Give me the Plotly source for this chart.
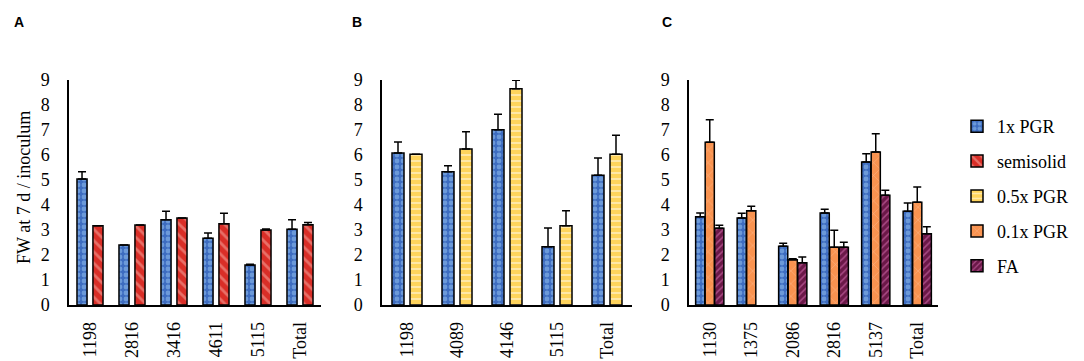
import plotly.graph_objects as go
import numpy as np

# ---------------- data ----------------
cats_a = ["1198", "2816", "3416", "4611", "5115", "Total"]
a_pgr1 = [5.04, 2.40, 3.41, 2.67, 1.60, 3.03]
a_pgr1_err = [0.29, 0.0, 0.34, 0.21, 0.03, 0.38]
a_semi = [3.17, 3.20, 3.48, 3.25, 3.00, 3.21]
a_semi_err = [0.0, 0.0, 0.0, 0.42, 0.04, 0.09]

cats_b = ["1198", "4089", "4146", "5115", "Total"]
b_pgr1 = [6.08, 5.33, 7.01, 2.33, 5.19]
b_pgr1_err = [0.44, 0.24, 0.62, 0.75, 0.69]
b_pgr05 = [6.03, 6.24, 8.65, 3.17, 6.03]
b_pgr05_err = [0.0, 0.69, 0.34, 0.60, 0.76]

cats_c = ["1130", "1375", "2086", "2816", "5137", "Total"]
c_pgr1 = [3.53, 3.48, 2.35, 3.68, 5.72, 3.75]
c_pgr1_err = [0.15, 0.19, 0.12, 0.15, 0.33, 0.33]
c_pgr01 = [6.51, 3.77, 1.81, 2.31, 6.12, 4.11]
c_pgr01_err = [0.90, 0.18, 0.04, 0.68, 0.73, 0.61]
c_fa = [3.07, None, 1.69, 2.31, 4.39, 2.85]
c_fa_err = [0.12, None, 0.23, 0.20, 0.20, 0.28]

y_ticks = [0, 1, 2, 3, 4, 5, 6, 7, 8, 9]

# ---------------- styles ----------------
SERIF = "Liberation Serif"
styles = {
    "1x PGR": dict(bg="#3D6CC0", fg="#9CC8F2", shape=".", size=6, sol=0.5),
    "semisolid": dict(bg="#D92E27", fg="#F6AFA8", shape="\\", size=8, sol=0.35),
    "0.5x PGR": dict(bg="#FFD45C", fg="#FFFFFF", shape="-", size=6, sol=0.3),
    "0.1x PGR": dict(bg="#F99350", fg="#FFD2B8", shape="x", size=9, sol=0.12),
    "FA": dict(bg="#6B1848", fg="#E67BC0", shape="/", size=5, sol=0.3),
}

# page body has an 8px margin; figure fills the rest of the window
OFF = 8
W, H = 1084 - OFF, 361 - OFF
def px_x(p):
    return (p - OFF) / W
def px_y(p):
    return 1 - (p - OFF) / H

dom_y = [px_y(305), px_y(80)]
dom_a = [px_x(69), px_x(321)]
dom_b = [px_x(382), px_x(632)]
dom_c = [px_x(689), px_x(938)]

fig = go.Figure()

def add_bar(name, cats, vals, errs, xa, ya, center, width, showlegend):
    s = styles[name]
    errs_plus = [np.nan if e is None else e for e in errs]
    errs_minus = [0 for _ in errs]
    fig.add_trace(go.Bar(
        x=cats, y=vals, name=name, xaxis=xa, yaxis=ya,
        width=width, offset=center - width / 2,
        marker=dict(color=s["bg"], line=dict(color="black", width=1.5),
                    pattern=dict(shape=s["shape"], bgcolor=s["bg"], fgcolor=s["fg"],
                                 size=s["size"], solidity=s["sol"])),
        error_y=dict(type="data", symmetric=False, array=errs_plus, arrayminus=errs_minus,
                     color="black", thickness=1.5, width=4),
        showlegend=showlegend, legendgroup=name,
    ))

# Panel A
add_bar("1x PGR", cats_a, a_pgr1, a_pgr1_err, "x", "y", -0.19, 0.24, True)
add_bar("semisolid", cats_a, a_semi, a_semi_err, "x", "y", 0.19, 0.24, True)
# Panel B
add_bar("1x PGR", cats_b, b_pgr1, b_pgr1_err, "x2", "y2", -0.18, 0.24, False)
add_bar("0.5x PGR", cats_b, b_pgr05, b_pgr05_err, "x2", "y2", 0.18, 0.24, True)
# Panel C
add_bar("1x PGR", cats_c, c_pgr1, c_pgr1_err, "x3", "y3", -0.23, 0.22, False)
add_bar("0.1x PGR", cats_c, c_pgr01, c_pgr01_err, "x3", "y3", 0.0, 0.22, True)
add_bar("FA", cats_c, c_fa, c_fa_err, "x3", "y3", 0.23, 0.22, True)

xcommon = dict(showline=True, linecolor="black", linewidth=1.5, showgrid=False,
               zeroline=False, tickangle=-90, ticks="", ticklabelstandoff=8,
               automargin=False,
               tickfont=dict(family=SERIF, size=18, color="black"), fixedrange=True)
ycommon = dict(showline=True, linecolor="black", linewidth=1.5, showgrid=False,
               zeroline=False, range=[0, 9], tickvals=y_ticks, ticks="",
               ticklabelstandoff=14, automargin=False,
               tickfont=dict(family=SERIF, size=18, color="black"), fixedrange=True)

fig.update_layout(
    width=W, height=H, margin=dict(l=0, r=0, t=0, b=0, autoexpand=False),
    paper_bgcolor="white", plot_bgcolor="white",
    barmode="overlay",
    xaxis=dict(domain=dom_a, anchor="y", **xcommon),
    yaxis=dict(domain=dom_y, anchor="x", **ycommon),
    xaxis2=dict(domain=dom_b, anchor="y2", **xcommon),
    yaxis2=dict(domain=dom_y, anchor="x2", **ycommon),
    xaxis3=dict(domain=dom_c, anchor="y3", **xcommon),
    yaxis3=dict(domain=dom_y, anchor="x3", **ycommon),
    legend=dict(x=px_x(957), y=px_y(108), xanchor="left", yanchor="top",
                font=dict(family=SERIF, size=18, color="black"),
                tracegroupgap=8.5, bgcolor="rgba(0,0,0,0)"),
    font=dict(family=SERIF, color="black"),
)

fig.add_annotation(text="FW at 7 d / inoculum", textangle=-90, x=px_x(12), y=px_y(188),
                   xref="paper", yref="paper", showarrow=False,
                   font=dict(family=SERIF, size=18, color="black"))
for lbl, xp in [("A", 12), ("B", 350), ("C", 667)]:
    fig.add_annotation(text="<b>%s</b>" % lbl, x=px_x(xp), y=px_y(12), xref="paper", yref="paper",
                       showarrow=False, font=dict(family="Liberation Sans", size=14, color="black"))

fig.write_html("out.html")
